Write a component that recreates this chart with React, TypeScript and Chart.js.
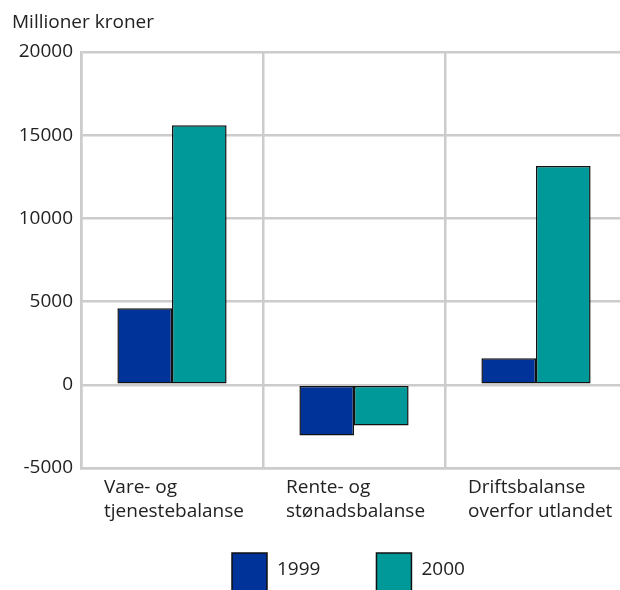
import React, { useEffect, useRef } from "react";
import { Chart, registerables } from "chart.js";

Chart.register(...registerables);

const categories: string[][] = [
  ["Vare- og", "tjenestebalanse"],
  ["Rente- og", "stønadsbalanse"],
  ["Driftsbalanse", "overfor utlandet"],
];
const series1999: number[] = [4600, -3050, 1600];
const series2000: number[] = [15600, -2450, 13150];
const seriesNames: string[] = ["1999", "2000"];
const yTitle = "Millioner kroner";
const yMin = -5000;
const yMax = 20000;
const yStep = 5000;

const FONT = "'Open Sans', sans-serif";
const FS = 19;
const TEXT = "#222222";
const GRID = "#cccccc";
const COLORS = ["#003399", "#009999"];

export default function App() {
  const ref = useRef<HTMLCanvasElement | null>(null);

  useEffect(() => {
    if (!ref.current) return;
    const overlay = {
      id: "overlay",
      afterDraw(chart: any) {
        const ctx = chart.ctx;
        const xs = chart.scales.x;
        const area = chart.chartArea;
        ctx.save();
        ctx.font = `${FS}px ${FONT}`;
        ctx.fillStyle = TEXT;
        ctx.textBaseline = "middle";
        ctx.textAlign = "left";
        ctx.fillText(yTitle, 12, 23);
        const half = (xs.getPixelForValue(1) - xs.getPixelForValue(0)) / 2;
        categories.forEach((lines, i) => {
          const left = xs.getPixelForValue(i) - half + 23;
          lines.forEach((ln, j) => {
            ctx.fillText(ln, left, area.bottom + 20 + j * 24);
          });
        });
        // legend
        const boxW = 35;
        const boxH = 40;
        const gapText = 10;
        const gapItems = 56;
        const widths = seriesNames.map((n) => boxW + gapText + ctx.measureText(n).width);
        let x = xs.getPixelForValue(1) - 122;
        const top = area.bottom + 85;
        seriesNames.forEach((n, i) => {
          ctx.fillStyle = COLORS[i];
          ctx.fillRect(x, top, boxW, boxH);
          ctx.strokeStyle = "#111111";
          ctx.lineWidth = 1.5;
          ctx.strokeRect(x, top, boxW, boxH);
          ctx.fillStyle = TEXT;
          ctx.fillText(n, x + boxW + gapText, top + 17);
          x += widths[i] + gapItems;
        });
        ctx.restore();
      },
    };

    const chart = new Chart(ref.current, {
      type: "bar",
      data: {
        labels: categories.map((c) => c.join(" ")),
        datasets: [
          {
            label: seriesNames[0],
            data: series1999,
            backgroundColor: COLORS[0],
            borderColor: "#111111",
            borderWidth: 1.5,
            borderSkipped: false,
          },
          {
            label: seriesNames[1],
            data: series2000,
            backgroundColor: COLORS[1],
            borderColor: "#111111",
            borderWidth: 1.5,
            borderSkipped: false,
          },
        ],
      },
      options: {
        responsive: false,
        animation: false,
        datasets: { bar: { categoryPercentage: 0.6, barPercentage: 1.0 } },
        layout: { padding: { left: 0, top: 52, right: 13, bottom: 132 } },
        plugins: {
          legend: { display: false },
          tooltip: { enabled: false },
          title: { display: false },
        },
        scales: {
          x: {
            grid: { color: GRID, lineWidth: 2.5, drawTicks: false, offset: true },
            border: { color: GRID, width: 2.5 },
            ticks: { display: false },
          },
          y: {
            min: yMin,
            max: yMax,
            afterFit: (scale: any) => {
              scale.width = 81;
            },
            ticks: {
              stepSize: yStep,
              padding: 8,
              color: TEXT,
              font: { family: FONT, size: FS },
              callback: (v: any) => String(v),
            },
            grid: { color: GRID, lineWidth: 2.5, drawTicks: false },
            border: { color: GRID, width: 2.5 },
          },
        },
      },
      plugins: [overlay],
    });
    return () => chart.destroy();
  }, []);

  return (
    <div
      style={{
        position: "absolute",
        left: 0,
        top: 0,
        width: 620,
        height: 590,
        overflow: "hidden",
        background: "#ffffff",
      }}
    >
      <canvas ref={ref} width={640} height={600} style={{ display: "block" }} />
    </div>
  );
}
